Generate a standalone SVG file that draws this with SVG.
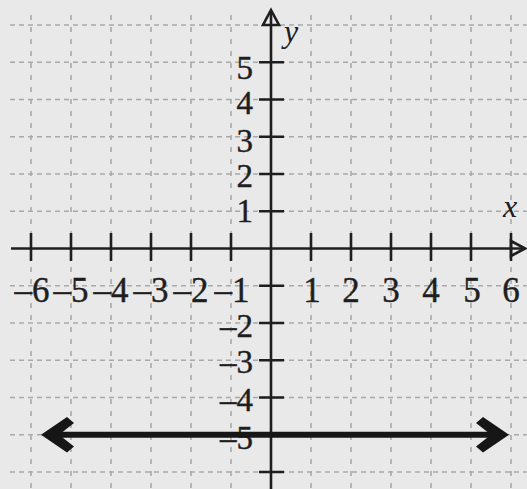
<svg xmlns="http://www.w3.org/2000/svg" width="527" height="489" viewBox="0 0 527 489">
<style>
.bg{fill:#e9e9e9}
.gh{stroke:#a9a9a9;stroke-width:1.6;stroke-dasharray:5 4;fill:none}
.gv{stroke:#a9a9a9;stroke-width:1.6;stroke-dasharray:5 7;fill:none}
.ax{stroke:#1e1e1e;stroke-width:2.6;fill:none}
.tk{stroke:#1e1e1e;stroke-width:2.6}
text{font-family:"Times New Roman","Liberation Serif",Tinos,"Noto Serif","DejaVu Serif",serif}
.lb{font-size:35px;fill:#1e1e1e;stroke:#1e1e1e;stroke-width:0.4}
.ly{font-size:33px;fill:#1e1e1e;stroke:#1e1e1e;stroke-width:0.4}
.it{font-style:italic;font-size:32px;fill:#1e1e1e}
.ln{stroke:#161616;stroke-width:6;fill:none}
.ah{fill:#161616}
</style>
<rect class="bg" x="0" y="0" width="527" height="489"/>
<g id="grid">
<path class="gh" d="M10 25H527M10 62.25H527M10 99.5H527M10 136.75H527M10 174H527M10 211.25H527M10 285.75H527M10 323H527M10 360.25H527M10 397.5H527M10 434.75H527M10 472H527"/>
<path class="gv" d="M31 15V489M71 15V489M111 15V489M151 15V489M191 15V489M231 15V489M311 15V489M351 15V489M391 15V489M431 15V489M471 15V489M511 15V489"/>
</g>
<g id="axes">
<path class="ax" d="M11 248.5H523"/>
<path class="ax" d="M271 12V489"/>
<path class="tk" d="M31 233V261M71 233V261M111 233V261M151 233V261M191 233V261M231 233V261M311 233V261M351 233V261M391 233V261M431 233V261M471 233V261M511 233V261"/>
<path class="tk" d="M259 62.25H284M259 99.5H284M259 136.75H284M259 174H284M259 211.25H284M259 285.75H284M259 323H284M259 360.25H284M259 397.5H284M259 434.75H284M259 472H284"/>
<path class="ax" d="M271 10L279 25H263Z"/>
<path class="ax" d="M525 248.5L511 241V256Z"/>
</g>
<g id="labels">
<text class="lb" text-anchor="middle" x="32" y="302">–6</text>
<text class="lb" text-anchor="middle" x="71" y="302">–5</text>
<text class="lb" text-anchor="middle" x="111" y="302">–4</text>
<text class="lb" text-anchor="middle" x="151" y="302">–3</text>
<text class="lb" text-anchor="middle" x="191" y="302">–2</text>
<text class="lb" text-anchor="middle" x="232" y="302">–1</text>
<text class="lb" text-anchor="middle" x="312" y="302">1</text>
<text class="lb" text-anchor="middle" x="351" y="302">2</text>
<text class="lb" text-anchor="middle" x="391" y="302">3</text>
<text class="lb" text-anchor="middle" x="431" y="302">4</text>
<text class="lb" text-anchor="middle" x="472" y="302">5</text>
<text class="lb" text-anchor="middle" x="511" y="302">6</text>
<text class="ly" text-anchor="end" x="253" y="79">5</text>
<text class="ly" text-anchor="end" x="253" y="114">4</text>
<text class="ly" text-anchor="end" x="253" y="152">3</text>
<text class="ly" text-anchor="end" x="253" y="187">2</text>
<text class="ly" text-anchor="end" x="253" y="222">1</text>
<text class="ly" text-anchor="end" x="253" y="337">–2</text>
<text class="ly" text-anchor="end" x="253" y="373">–3</text>
<text class="ly" text-anchor="end" x="253" y="411">–4</text>
<text class="ly" text-anchor="end" x="253" y="449">–5</text>
<text class="it" x="284" y="42">y</text>
<text class="it" x="503" y="217">x</text>
</g>
<g id="line">
<path class="ln" d="M52 434.75H498"/>
<path class="ah" d="M41 434.75L67 417L74 423L59 434.75L74 446.5L67 452.5Z"/>
<path class="ah" d="M509 434.75L483 417L476 423L491 434.75L476 446.5L483 452.5Z"/>
</g>
</svg>
